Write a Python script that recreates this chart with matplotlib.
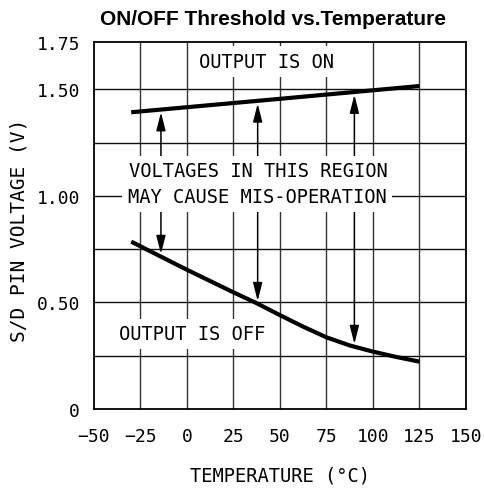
import numpy as np
import matplotlib
matplotlib.use("Agg")
import matplotlib.pyplot as plt

# data
temps_on = [-30, 50, 125]
v_on = [1.392, 1.455, 1.515]

temps_off = [-30, -25, 0, 25, 37.5, 50, 62.5, 75, 87.5, 100, 112.5, 125]
v_off = [0.785, 0.763, 0.653, 0.547, 0.496, 0.440, 0.386, 0.336, 0.298, 0.269, 0.244, 0.222]

arrow_temps = [-14, 38, 90]

x_ticks = [-50, -25, 0, 25, 50, 75, 100, 125, 150]
y_ticks = [0, 0.5, 1.0, 1.5, 1.72]
y_tick_labels = ["0", "0.50", "1.00", "1.50", "1.75"]
y_grid = [0.25, 0.5, 0.75, 1.0, 1.25, 1.5]

lab_font = "DejaVu Sans Mono"

fig = plt.figure(figsize=(4.85, 4.89), dpi=100)
ax = fig.add_axes([0.1938, 0.1616, 0.767, 0.7498])

ax.set_xlim(-50, 150)
ax.set_ylim(0, 1.72)

# grid
for x in x_ticks[1:-1]:
    ax.axvline(x, color="#333333", lw=1.0, zorder=1)
for y in y_grid:
    ax.axhline(y, color="#111111", lw=1.0, zorder=1)

ax.plot(temps_on, v_on, color="black", lw=3.0, solid_capstyle="butt", zorder=4)
ax.plot(temps_off, v_off, color="black", lw=3.0, solid_capstyle="butt",
        solid_joinstyle="round", zorder=4)

# arrows
astyle = dict(arrowstyle="-|>,head_length=1.1,head_width=0.28", mutation_scale=10,
              color="black", lw=1.1, shrinkA=0, shrinkB=0)
for t in arrow_temps:
    tip_up = np.interp(t, temps_on, v_on) - 0.013
    ax.annotate("", xy=(t, tip_up), xytext=(t, 1.11), arrowprops=astyle, zorder=3)
    tip_dn = np.interp(t, temps_off, v_off) + 0.013
    ax.annotate("", xy=(t, tip_dn), xytext=(t, 1.0), arrowprops=astyle, zorder=3)

box = dict(boxstyle="square,pad=0.3", fc="white", ec="none")
tkw = dict(family=lab_font, fontsize=13.5, ha="center", va="center", bbox=box, zorder=5)
ax.text(42.8, 1.63, "OUTPUT IS ON", **tkw)
ax.text(38.2, 1.118, "VOLTAGES IN THIS REGION", **tkw)
ax.text(37.6, 0.997, "MAY CAUSE MIS-OPERATION", **tkw)
ax.text(2.5, 0.352, "OUTPUT IS OFF", **tkw)

ax.set_xticks(x_ticks)
ax.set_yticks(y_ticks)
ax.set_yticklabels(y_tick_labels)
ax.tick_params(length=0, labelsize=13, pad=13)
ax.tick_params(axis="y", pad=10)
for lbl in ax.get_xticklabels() + ax.get_yticklabels():
    lbl.set_family(lab_font)

for s in ax.spines.values():
    s.set_linewidth(1.3)
    s.set_zorder(6)

ax.set_xlabel("TEMPERATURE (°C)", family=lab_font, fontsize=13.5)
ax.set_ylabel("S/D PIN VOLTAGE (V)", family=lab_font, fontsize=14)
ax.xaxis.set_label_coords(0.5, -0.18)
ax.xaxis.label.set_va("center")
ax.yaxis.set_label_coords(-0.202, 0.49)
ax.yaxis.label.set_va("center")

fig.text(0.562, 0.949, "ON/OFF Threshold vs.Temperature", family="Liberation Sans",
         fontweight="bold", fontsize=15, ha="center", va="baseline")

fig.savefig("out.png", dpi=100)
